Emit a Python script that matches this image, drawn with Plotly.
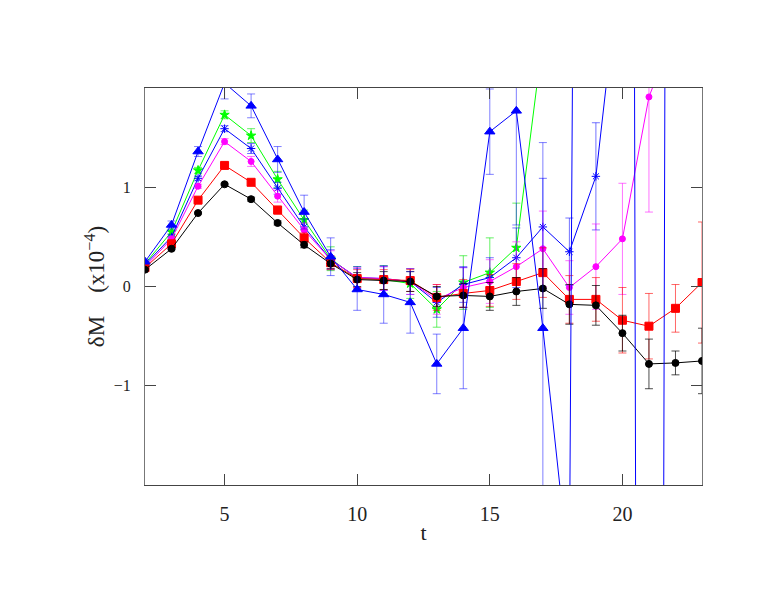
import plotly.graph_objects as go

# time slices
t = list(range(2, 24))

# series values (units of 1e-4) and their errors
black_y = [0.17, 0.38, 0.74, 1.03, 0.88, 0.64, 0.42, 0.23, 0.07, 0.06, 0.05,
           -0.10, -0.09, -0.10, -0.05, -0.02, -0.18, -0.19, -0.47, -0.78, -0.77, -0.75]
black_e = [0.01, 0.01, 0.01, 0.01, 0.02, 0.02, 0.03, 0.05, 0.07, 0.09, 0.10,
           0.10, 0.12, 0.14, 0.14, 0.20, 0.20, 0.20, 0.18, 0.25, 0.12, 0.33]

red_y = [0.19, 0.43, 0.87, 1.22, 1.05, 0.77, 0.49, 0.24, 0.08, 0.07, 0.06,
         -0.11, -0.07, -0.04, 0.05, 0.14, -0.13, -0.13, -0.34, -0.40, -0.22, 0.04]
red_e = [0.01, 0.01, 0.02, 0.02, 0.03, 0.04, 0.05, 0.07, 0.09, 0.10, 0.11,
         0.13, 0.14, 0.16, 0.18, 0.25, 0.24, 0.22, 0.33, 0.33, 0.24, 0.61]

magenta_y = [0.20, 0.48, 1.01, 1.46, 1.26, 0.91, 0.57, 0.27, 0.09, 0.08, 0.05,
             -0.13, -0.01, 0.05, 0.20, 0.38, -0.01, 0.20, 0.48, 1.91, 2.60]
magenta_e = [0.01, 0.02, 0.02, 0.03, 0.05, 0.06, 0.07, 0.09, 0.10, 0.12, 0.13,
             0.15, 0.20, 0.22, 0.25, 0.38, 0.27, 0.43, 0.56, 1.16, 0.50]

bluestar_y = [0.22, 0.50, 1.09, 1.59, 1.39, 0.99, 0.60, 0.27, 0.09, 0.08, 0.05,
              -0.16, 0.02, 0.09, 0.29, 0.60, 0.35, 1.11, 3.47]
bluestar_e = [0.01, 0.02, 0.02, 0.03, 0.05, 0.06, 0.08, 0.10, 0.11, 0.12, 0.13,
              0.15, 0.18, 0.20, 0.30, 0.49, 0.34, 0.54, 0.80]

green_y = [0.23, 0.55, 1.17, 1.73, 1.52, 1.08, 0.67, 0.28, 0.08, 0.07, 0.03,
           -0.23, 0.04, 0.14, 0.39, 2.50]
green_e = [0.01, 0.02, 0.03, 0.04, 0.07, 0.08, 0.10, 0.12, 0.12, 0.14, 0.15,
           0.18, 0.27, 0.35, 0.45, 0.40]

tri_y = [0.25, 0.62, 1.36, 2.05, 1.82, 1.28, 0.75, 0.30, -0.03, -0.08, -0.16,
         -0.78, -0.42, 1.56, 1.77, -0.42, -2.90, 40.0, 50.0, -55.0, 40.0]
tri_e = [0.02, 0.04, 0.05, 0.16, 0.12, 0.13, 0.17, 0.19, 0.21, 0.29, 0.31,
         0.30, 0.61, 0.43, 1.15, 1.87, 0.50, 5.0, 5.0, 5.0, 5.0]

series = [
    (green_y, green_e, "#00ff00", "rgba(0,230,0,0.6)", "star", 7),
    (bluestar_y, bluestar_e, "#0000ff", "rgba(0,0,255,0.55)", "asterisk-open", 7),
    (magenta_y, magenta_e, "#ff00ff", "rgba(255,0,255,0.55)", "circle", 6),
    (red_y, red_e, "#ff0000", "rgba(255,0,0,0.6)", "square", 8),
    (black_y, black_e, "#000000", "rgba(0,0,0,0.7)", "circle", 7),
    (tri_y, tri_e, "#0000ff", "rgba(0,0,255,0.5)", "triangle-up", 9),
]

fig = go.Figure()
for ys, es, col, ecol, sym, size in series:
    fig.add_trace(go.Scatter(
        x=t[:len(ys)], y=ys, mode="lines+markers",
        line=dict(color=col, width=1),
        marker=dict(symbol=sym, size=size, color=col, line=dict(color=col, width=1)),
        error_y=dict(type="data", array=es, visible=True, color=ecol, thickness=1, width=4),
        showlegend=False))

fig.update_xaxes(range=[2, 23], tickvals=[5, 10, 15, 20], ticks="inside", ticklen=11,
                 showline=True, linecolor="#444", linewidth=1, mirror="ticks",
                 showgrid=False, zeroline=False, tickfont=dict(size=20, color="#222"),
                 ticklabelstandoff=11,
                 title=dict(text="t", font=dict(size=22, color="#222"), standoff=0))
fig.update_yaxes(range=[-2, 2], tickvals=[-1, 0, 1], ticktext=["\u22121", "0", "1"],
                 ticks="inside", ticklen=11, showline=True, linecolor="#777", linewidth=1,
                 mirror="ticks", showgrid=False, zeroline=False,
                 tickfont=dict(size=16, color="#222"), ticklabelstandoff=10,
                 title=dict(text="\u03b4M    (x10<sup>\u22124</sup>)",
                            font=dict(size=23, color="#222"), standoff=2))

fig.update_layout(
    width=776, height=599,
    margin=dict(l=137, r=82, t=80, b=122),
    paper_bgcolor="white", plot_bgcolor="white",
    font=dict(family="Liberation Serif"),
)

fig.write_html("out.html")
